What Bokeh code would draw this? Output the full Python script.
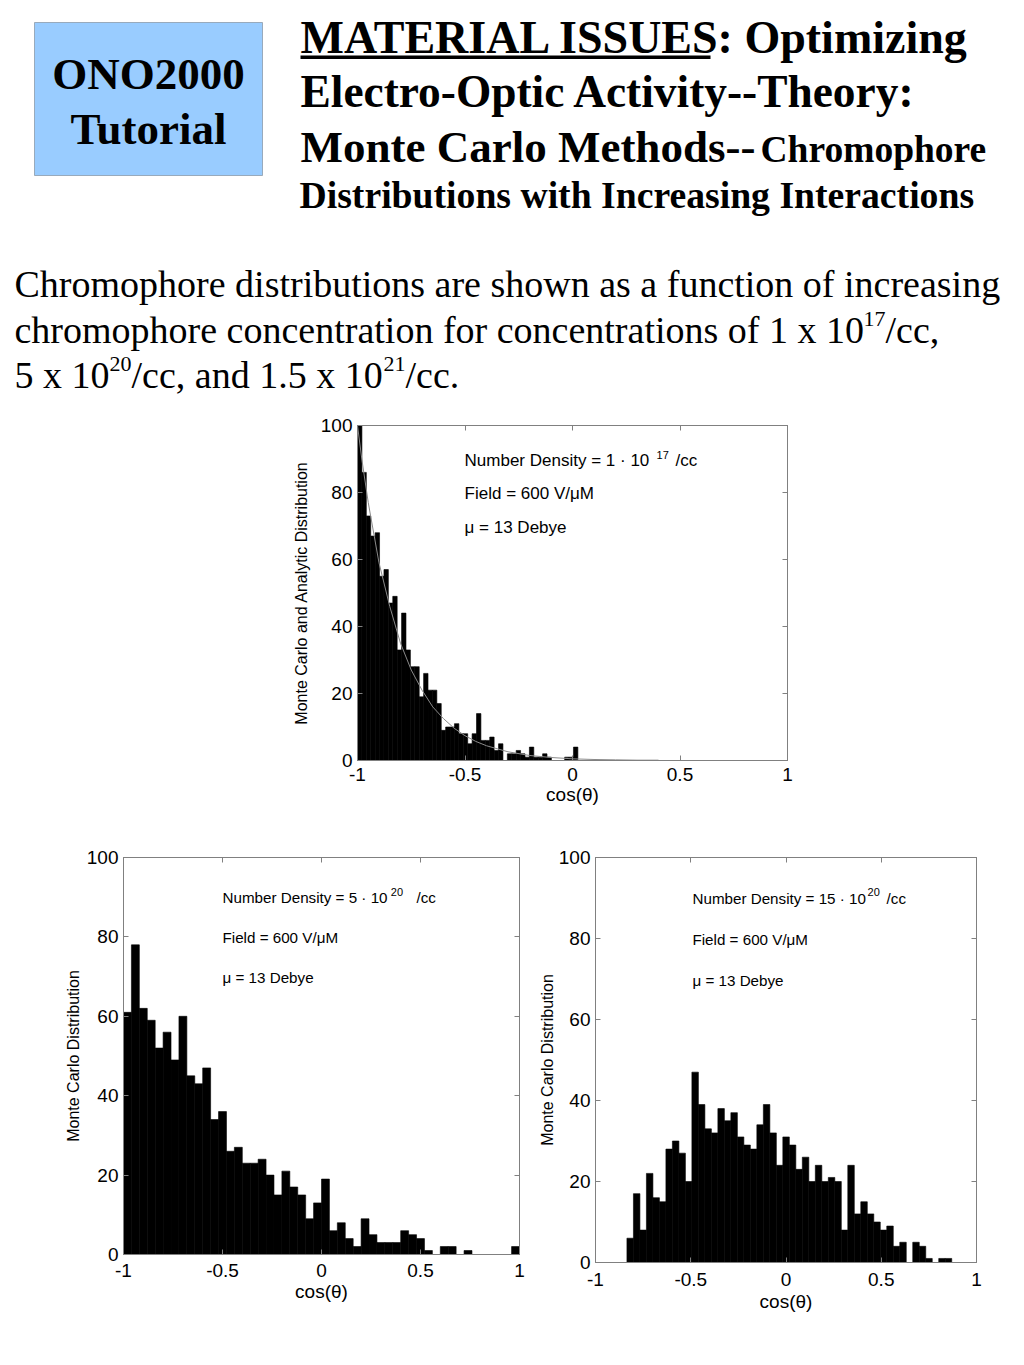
from bokeh.plotting import figure
from bokeh.layouts import column, row
from bokeh.models import Range1d, Label, BoxAnnotation, LinearAxis, FixedTicker, ColumnDataSource
from bokeh.embed import file_html
from bokeh.resources import INLINE

# ---------------- data ----------------
x_ticks = [-1, -0.5, 0, 0.5, 1]
x_tick_labels = ["-1", "-0.5", "0", "0.5", "1"]
y_ticks = [0, 20, 40, 60, 80, 100]

# 1e17 /cc  (histogram range = data min..max, 50 bins)
top_start, top_end = -1.0, 0.025
top_counts = [100, 86, 73, 67, 68, 55, 57, 47, 49, 33,
              44, 33, 28, 28, 19, 26, 21, 21, 17, 9,
              10, 10, 11, 8, 8, 5, 8, 14, 6, 6,
              7, 3, 5, 0, 2, 2, 3, 2, 1, 4,
              1, 1, 2, 1, 0, 0, 0, 1, 1, 4]
# analytic distribution (gray line)
ana_x = [-1.0, -0.98, -0.95, -0.9, -0.85, -0.8, -0.75, -0.7, -0.65, -0.6, -0.55,
         -0.5, -0.45, -0.4, -0.3, -0.2, -0.1, 0.0, 0.1, 0.2, 0.3, 0.4]
ana_y = [100, 90, 77, 59, 46, 35, 27, 21, 16, 12.5, 9.6,
         7.4, 5.7, 4.4, 2.6, 1.5, 0.9, 0.5, 0.3, 0.2, 0.1, 0.1]

# 5e20 /cc
bl_start, bl_end = -1.0, 1.0
bl_counts = [61, 78, 62, 59, 52, 56, 49, 60, 45, 43,
             47, 34, 36, 26, 27, 23, 23, 24, 20, 15,
             21, 17, 15, 9, 13, 19, 6, 8, 4, 2,
             9, 5, 3, 3, 3, 6, 5, 4, 1, 0,
             2, 2, 0, 1, 0, 0, 0, 0, 0, 2]

# 15e20 /cc
br_start, br_end = -0.835, 0.87
br_counts = [6, 17, 8, 22, 16, 15, 28, 30, 27, 20,
             47, 39, 33, 32, 38, 35, 37, 31, 29, 28,
             34, 39, 32, 24, 31, 29, 23, 26, 20, 24,
             20, 21, 20, 8, 24, 12, 15, 12, 10, 8,
             9, 4, 5, 0, 5, 4, 1, 0, 1, 1]

SANS = "Liberation Sans"
SERIF = "Liberation Serif"
GRAY = "#808080"


def make_chart(counts, start, end, fw, fh, bl, br, bt, bb, ylabel,
               y_std, xlab_std, xtitle_std, density, ann_x, ann_y, sup_x, sup_text, cc_x, fs):
    p = figure(frame_width=fw, frame_height=fh,
               x_range=Range1d(-1, 1), y_range=Range1d(0, 100),
               output_backend="svg", toolbar_location=None,
               min_border_left=bl, min_border_right=br,
               min_border_top=bt, min_border_bottom=bb)
    p.xgrid.visible = False
    p.ygrid.visible = False
    p.outline_line_color = GRAY

    n = len(counts)
    w = (end - start) / n
    centers = [start + (i + 0.5) * w for i in range(n)]
    src = ColumnDataSource(dict(x=centers, top=counts))
    p.vbar(x="x", top="top", width=w, bottom=0, source=src,
           fill_color="black", line_color="black", line_width=0.6)

    p.xaxis.ticker = FixedTicker(ticks=x_ticks)
    p.xaxis.major_label_overrides = dict(zip(x_ticks, x_tick_labels))
    p.yaxis.ticker = FixedTicker(ticks=y_ticks)
    for ax in (p.xaxis[0], p.yaxis[0]):
        ax.axis_line_color = GRAY
        ax.major_tick_line_color = GRAY
        ax.major_tick_in = 5
        ax.major_tick_out = 0
        ax.minor_tick_line_color = None
        ax.major_label_text_font = SANS
        ax.major_label_text_font_size = "19px"
        ax.major_label_text_color = "black"
        ax.axis_label_text_font = SANS
        ax.axis_label_text_font_style = "normal"
        ax.axis_label_text_color = "black"
    p.xaxis.axis_label_text_font_size = "19px"
    p.yaxis.axis_label_text_font_size = "16px"
    p.xaxis.major_label_standoff = xlab_std
    p.xaxis.axis_label = "cos(θ)"
    p.xaxis.axis_label_standoff = xtitle_std
    p.yaxis.axis_label = ylabel
    p.yaxis.axis_label_standoff = y_std
    p.yaxis.major_label_standoff = 5

    for loc, ticks in (("above", x_ticks), ("right", y_ticks)):
        ax = LinearAxis(ticker=FixedTicker(ticks=ticks),
                        major_label_overrides={t: "" for t in ticks},
                        major_label_text_font_size="0px",
                        major_label_standoff=0,
                        axis_line_color=GRAY, major_tick_line_color=GRAY,
                        major_tick_in=5, major_tick_out=0,
                        minor_tick_line_color=None)
        p.add_layout(ax, loc)

    def lab(x, y, t, size):
        p.add_layout(Label(x=x, y=y, text=t, text_baseline="middle", text_color="black",
                           text_font=SANS, text_font_size=size))

    lab(ann_x, ann_y[0], density, fs)
    lab(sup_x, ann_y[0] + 1.5, sup_text, "11px")
    lab(cc_x, ann_y[0], "/cc", fs)
    lab(ann_x, ann_y[1], "Field = 600 V/μM", fs)
    lab(ann_x, ann_y[2], "μ = 13 Debye", fs)
    return p


# ---------------- header ----------------
hdr = figure(width=1016, height=408, x_range=Range1d(0, 1016), y_range=Range1d(408, 0),
             output_backend="svg", toolbar_location=None, min_border=0,
             x_axis_type=None, y_axis_type=None)
hdr.grid.visible = False
hdr.outline_line_color = None

hdr.add_layout(BoxAnnotation(left=34, right=262, top=22, bottom=175,
                             fill_color="#99CCFF", fill_alpha=1.0,
                             line_color="#222222", line_width=1))


def hl(x, y, t, size, bold=True, align="left"):
    hdr.add_layout(Label(x=x, y=y, text=t, text_font=SERIF, text_color="black",
                         text_font_style="bold" if bold else "normal",
                         text_font_size=size, text_baseline="middle", text_align=align))


hl(148, 73, "ONO2000", "45px", align="center")
hl(148, 128, "Tutorial", "45px", align="center")

hl(300, 37, "MATERIAL ISSUES:  Optimizing", "46px")
hdr.add_layout(BoxAnnotation(left=300, right=710, top=55, bottom=58.5,
                             fill_color="black", fill_alpha=1.0, line_color=None))
hl(300, 91, "Electro-Optic Activity--Theory:", "45.4px")
hl(300, 146, "Monte Carlo Methods--", "45px")
hl(760, 149, "Chromophore", "37.5px")
hl(299, 194, "Distributions with Increasing Interactions", "37.7px")

hl(14, 283, "Chromophore distributions are shown as a function of increasing", "38px", False)
hl(14, 329, "chromophore concentration for concentrations of 1 x 10", "38px", False)
hl(863, 318, "17", "22px", False)
hl(885, 329, "/cc,", "38px", False)
hl(14, 374, "5 x 10", "38px", False)
hl(109, 363, "20", "22px", False)
hl(131, 374, "/cc, and 1.5 x 10", "38px", False)
hl(383, 363, "21", "22px", False)
hl(405, 374, "/cc.", "38px", False)

# ---------------- charts ----------------
p_top = make_chart(top_counts, top_start, top_end, 430, 335, 357, 229, 17, 70,
                   "Monte Carlo and Analytic Distribution", 8, 7, 0,
                   "Number Density = 1 · 10", -0.502, [89.6, 79.7, 69.6], 0.391, "17", 0.479, "17px")
p_top.line(ana_x, ana_y, line_color="#8a8a8a", line_width=1)

p_bl = make_chart(bl_counts, bl_start, bl_end, 396, 397, 123, 11, 26, 77,
                  "Monte Carlo Distribution", 2, 9, 1,
                  "Number Density = 5 · 10", -0.5, [89.9, 79.8, 69.8], 0.35, "20", 0.48, "15.2px")

p_br = make_chart(br_counts, br_start, br_end, 381, 405, 65, 40, 27, 68,
                  "Monte Carlo Distribution", 0, 10, 2,
                  "Number Density = 15 · 10", -0.491, [89.9, 79.8, 69.6], 0.428, "20", 0.528, "15.2px")

layout = column(row(hdr), row(p_top), row(p_bl, p_br))

open("out.html", "w").write(file_html(layout, INLINE))
